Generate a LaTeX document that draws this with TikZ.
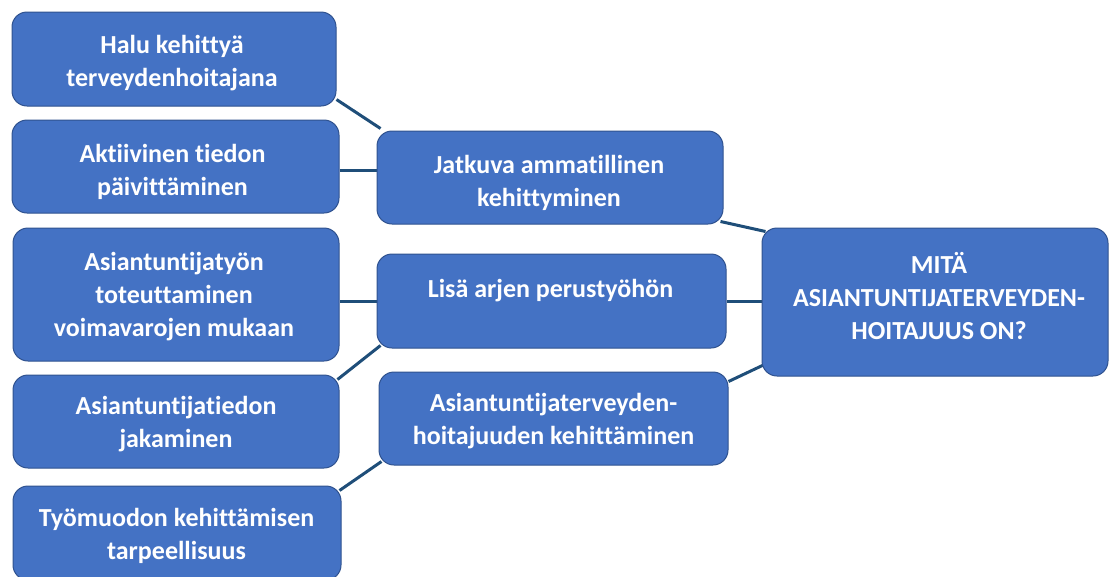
\documentclass[tikz,border=0pt]{standalone}
\usepackage{fontspec}
\setmainfont{Carlito}[Ligatures={NoCommon}]
\usetikzlibrary{calc,backgrounds}
\definecolor{boxfill}{HTML}{4472C4}
\definecolor{boxline}{HTML}{2F528F}
\definecolor{conn}{HTML}{1F4E79}
\tikzset{
  box/.style={draw=boxline, line width=1pt, fill=boxfill, rounded corners=15pt, inner sep=0pt},
  txt/.style={text=white, align=center, inner sep=0pt,
    font=\fontsize{26}{33}\selectfont\bfseries},
  link/.style={draw=conn, line width=3pt}
}
\begin{document}
\begin{tikzpicture}[x=1pt,y=-1pt]
\useasboundingbox (0,0) rectangle (1110,576);
\clip (0,0) rectangle (1110,576);
% boxes
\node[box, minimum width=324pt, minimum height=94pt] (halu) at (174,59) {};
\node[box, minimum width=327pt, minimum height=93pt] (akt) at (175.5,166.5) {};
\node[box, minimum width=326pt, minimum height=133pt] (atyo) at (176,294.5) {};
\node[box, minimum width=326pt, minimum height=93pt] (atied) at (176,421.5) {};
\node[box, minimum width=328pt, minimum height=94pt] (tyo) at (177,533) {};
\node[box, minimum width=346pt, minimum height=93pt] (jatk) at (550,177.5) {};
\node[box, minimum width=349pt, minimum height=94pt] (lisa) at (551.5,301) {};
\node[box, minimum width=349pt, minimum height=93pt] (aterv) at (553.5,418.5) {};
\node[box, minimum width=346pt, minimum height=148pt] (mita) at (935,302) {};
% texts
\node[txt] (thalu) at (172,63.5) {Halu kehittyä\\terveydenhoitajana};
\node[txt] (takt) at (172.5,172) {Aktiivinen tiedon\\päivittäminen};
\node[txt] (tatyo) at (174,297) {Asiantuntijatyön\\toteuttaminen\\voimavarojen mukaan};
\node[txt] (tatied) at (176,424.5) {Asiantuntijatiedon\\jakaminen};
\node[txt] (ttyo) at (176.5,535.5) {Työmuodon kehittämisen\\tarpeellisuus};
\node[txt] (tjatk) at (549,183) {Jatkuva ammatillinen\\kehittyminen};
\node[txt] (tlisa) at (550.5,291) {Lisä arjen perustyöhön};
\node[txt] (taterv) at (553.5,421) {Asiantuntijaterveyden-\\hoitajuuden kehittäminen};
\node[txt] (tmita) at (939,296) {MITÄ\\ASIANTUNTIJATERVEYDEN-\\HOITAJUUS ON?};
% connectors
\begin{scope}[on background layer]
\draw[link] (halu.-14) -- ($(jatk.north west)+(4,-2)$);
\draw[link] ($(akt.east)+(0,3.5)$) coordinate (pa) -- (pa -| jatk.west);
\draw[link] (lisa.west) -- (lisa.west -| atyo.east);
\draw[link] ($(atied.north east)+(-2,5)$) -- ($(lisa.south west)+(4,-3)$);
\draw[link] ($(tyo.north east)+(-2,5)$) -- ($(aterv.south west)+(3,-4)$);
\draw[link] ($(jatk.south east)+(-3,-3)$) -- ($(mita.north west)+(4,4)$);
\draw[link] (lisa.east) -- (lisa.east -| mita.west);
\draw[link] ($(aterv.north east)+(0,10)$) -- ($(mita.south west)+(3,-12)$);
\end{scope}
\end{tikzpicture}
\end{document}
